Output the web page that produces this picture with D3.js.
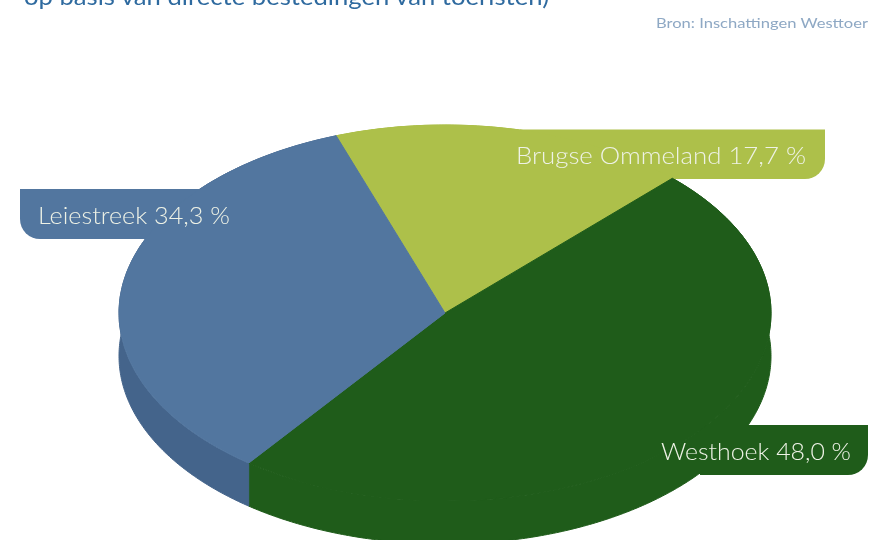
<!DOCTYPE html>
<html>
<head>
<meta charset="utf-8">
<script src="https://d3js.org/d3.v7.min.js"></script>
<style>
    html, body { margin: 0; padding: 0; background: #fff; overflow: hidden; }
    text { font-family: Lato, "Open Sans", sans-serif; }
</style>
</head>
<body>
<div id="chart"></div>
<script>
const categories = ['Brugse Ommeland', 'Westhoek', 'Leiestreek'];
const shares = [17.7, 48.0, 34.3];
const titleLine = 'op basis van directe bestedingen van toeristen)';
const sourceLine = 'Bron: Inschattingen Westtoer';

const topColors = ['#adc04a', '#1f5c1a', '#52769f'];
const wallColors = ['#adc04a', '#1f5c1a', '#44648b'];

const width = 872, height = 540;
const cx = 445, cy = 313, rx = 326, ry = 188, depth = 43;
const startAngle = -19.5 * Math.PI / 180;

// Tab behind each label: box plus the corner that is rounded
const tabs = [
    { x0: 520, x1: 825, y0: 129.5, y1: 179, corner: 'right', textX: 516, textY: 164, textW: 290 },
    { x0: 700, x1: 868, y0: 425, y1: 475, corner: 'right', textX: 661, textY: 460, textW: 190 },
    { x0: 20, x1: 220, y0: 189, y1: 239, corner: 'left', textX: 38, textY: 224, textW: 192 }
];

const fmt = v => v.toFixed(1).replace('.', ',') + ' %';

const svg = d3.select('#chart').append('svg')
    .attr('width', width)
    .attr('height', height)
    .style('display', 'block');

// The scan is soft, a small blur keeps the text from looking too crisp
svg.append('defs').append('filter')
    .attr('id', 'soft')
    .append('feGaussianBlur')
    .attr('stdDeviation', 0.4);

svg.append('text')
    .attr('x', 24)
    .attr('y', 5)
    .attr('textLength', 525)
    .attr('lengthAdjust', 'spacingAndGlyphs')
    .attr('filter', 'url(#soft)')
    .style('font-size', '24px')
    .style('fill', '#2f6a9f')
    .text(titleLine);

svg.append('text')
    .attr('x', 656)
    .attr('y', 28)
    .attr('textLength', 212)
    .attr('lengthAdjust', 'spacingAndGlyphs')
    .attr('filter', 'url(#soft)')
    .style('font-size', '14px')
    .style('fill', '#8ea8c4')
    .text(sourceLine);

const pie = d3.pie()
    .sort(null)
    .startAngle(startAngle)
    .endAngle(startAngle + 2 * Math.PI);
const slices = pie(shares);

// Side wall of each slice, hanging below the rim
const wall = d3.area()
    .x(a => cx + rx * Math.sin(a))
    .y0(a => cy - ry * Math.cos(a))
    .y1(a => cy - ry * Math.cos(a) + depth);

svg.append('g').selectAll('path')
    .data(slices)
    .join('path')
    .attr('fill', (d, i) => wallColors[i])
    .attr('stroke', (d, i) => wallColors[i])
    .attr('stroke-width', 1)
    .attr('d', d => wall(d3.range(d.startAngle, d.endAngle, 0.01).concat(d.endAngle)));

// Tabs go under the pie faces so they merge with their own slice
function tabPath(t) {
    const r = 20;
    const p = d3.path();
    if (t.corner === 'right') {
        p.moveTo(t.x0, t.y0);
        p.lineTo(t.x1, t.y0);
        p.arcTo(t.x1, t.y1, t.x1 - r, t.y1, r);
        p.lineTo(t.x0, t.y1);
    } else {
        p.moveTo(t.x1, t.y0);
        p.lineTo(t.x0, t.y0);
        p.arcTo(t.x0, t.y1, t.x0 + r, t.y1, r);
        p.lineTo(t.x1, t.y1);
    }
    p.closePath();
    return p.toString();
}

svg.append('g').selectAll('path')
    .data(tabs)
    .join('path')
    .attr('fill', (d, i) => topColors[i])
    .attr('d', tabPath);

const arc = d3.arc().innerRadius(0).outerRadius(rx);

svg.append('g')
    .attr('transform', `translate(${cx},${cy}) scale(1,${ry / rx})`)
    .selectAll('path')
    .data(slices)
    .join('path')
    .attr('fill', (d, i) => topColors[i])
    .attr('stroke', (d, i) => topColors[i])
    .attr('stroke-width', 1)
    .attr('vector-effect', 'non-scaling-stroke')
    .attr('d', arc);

svg.append('g').selectAll('text')
    .data(tabs)
    .join('text')
    .attr('x', d => d.textX)
    .attr('y', d => d.textY)
    .attr('textLength', d => d.textW)
    .attr('lengthAdjust', 'spacingAndGlyphs')
    .attr('filter', 'url(#soft)')
    .style('font-size', '24px')
    .style('font-weight', 300)
    .style('fill', '#eef2e6')
    .text((d, i) => `${categories[i]} ${fmt(shares[i])}`);
</script>
</body>
</html>
